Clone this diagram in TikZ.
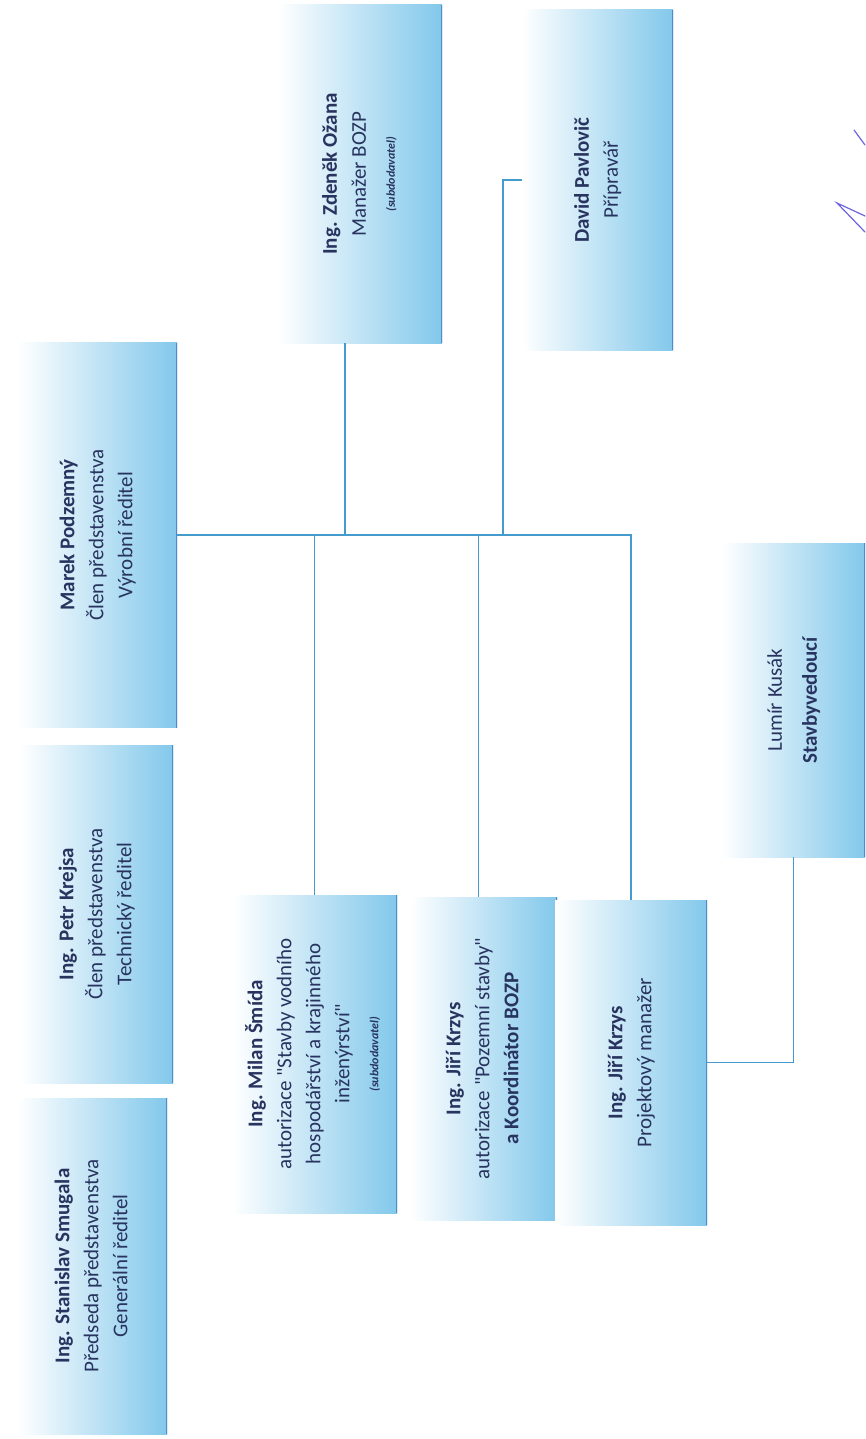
\documentclass[tikz,border=0pt]{standalone}
\usepackage{fontspec}
\setmainfont{Carlito}[Ligatures=TeXOff]
\usepackage{graphicx}

\definecolor{boxblue}{RGB}{130,200,235}
\definecolor{edgeblue}{RGB}{80,140,200}
\definecolor{linkblue}{RGB}{70,155,205}
\definecolor{inkblue}{RGB}{40,52,95}
\definecolor{penblue}{RGB}{110,100,220}

\newcommand{\rottext}[1]{\rotatebox{90}{\begin{tabular}{@{}c@{}}#1\end{tabular}}}
\newcommand{\subd}{{\fontsize{12}{14}\selectfont\bfseries\itshape (subdodavatel)}}

\tikzset{
  post/.style 2 args={rectangle, inner sep=0pt, minimum width=#1, minimum height=#2,
    left color=white, middle color=boxblue!45, right color=boxblue, text=inkblue,
    font=\fontsize{21}{29}\selectfont,
    path picture={\draw[edgeblue, line width=3pt]
      (path picture bounding box.north east) -- (path picture bounding box.south east);}},
  link/.style={draw=linkblue, line width=1.8pt},
}

\begin{document}
\begin{tikzpicture}[x=1pt, y=-1pt]
  \fill[white] (0,0) rectangle (865,1439);
  \useasboundingbox (0,0) rectangle (865,1439);

  % predstavenstvo
  \node[post={149pt}{336pt}] (smugala) at (92.5,1266)
    {\rottext{\textbf{Ing. Stanislav Smugala}\\Předseda představenstva\\Generální ředitel}};
  \node[post={153pt}{338pt}] (krejsa) at (96.5,914)
    {\rottext{\textbf{Ing. Petr Krejsa}\\Člen představenstva\\Technický ředitel}};
  \node[post={159pt}{385pt}] (podzemny) at (97.5,535)
    {\rottext{\textbf{Marek Podzemný}\\Člen představenstva\\Výrobní ředitel}};

  % horni rada
  \node[post={164pt}{338pt}] (ozana) at (360,174)
    {\rottext{\textbf{Ing. Zdeněk Ožana}\\Manažer BOZP\\\subd}};
  \node[post={151pt}{340pt}] (pavlovic) at (597.5,180)
    {\rottext{\textbf{David Pavlovič}\\Přípravář}};

  % dolni rada
  \node[post={165pt}{318pt}] (smida) at (314.5,1054)
    {\rottext{\textbf{Ing. Milan Šmída}\\autorizace "Stavby vodního\\hospodářství a krajinného\\inženýrství"\\\subd}};
  \node[post={147pt}{323pt}] (krzys) at (483.5,1058.5)
    {\rottext{\textbf{Ing. Jiří Krzys}\\autorizace "Pozemní stavby"\\\textbf{a Koordinátor BOZP}}};
  \node[post={152pt}{325pt}] (manazer) at (631,1062.5)
    {\rottext{\textbf{Ing. Jiří Krzys}\\Projektový manažer}};
  \node[post={143pt}{314pt}] (kusak) at (793.5,700)
    {\rottext{Lumír Kusák\\[6pt]\textbf{Stavbyvedoucí}}};

  % spojnice
  \draw[link] (podzemny.east) -| (manazer.north);
  \draw[link] (smida.north) -- (smida.north |- podzemny.east);
  \draw[link] ([xshift=-5pt]krzys.north) -- ([xshift=-5pt]krzys.north |- podzemny.east);
  \draw[link] ([xshift=-15pt]ozana.south) -- ([xshift=-15pt]ozana.south |- podzemny.east);
  \draw[link] (pavlovic.west) -| ([xshift=-19pt]pavlovic.west |- podzemny.east);
  \draw[link] (manazer.east) -| (kusak.south);

  % podpis
  \draw[penblue, line width=1.2pt, line cap=round] (865,216) -- (837,203) -- (865,232);
  \draw[penblue, line width=1.2pt, line cap=round] (854,130) -- (865,145);
\end{tikzpicture}
\end{document}
